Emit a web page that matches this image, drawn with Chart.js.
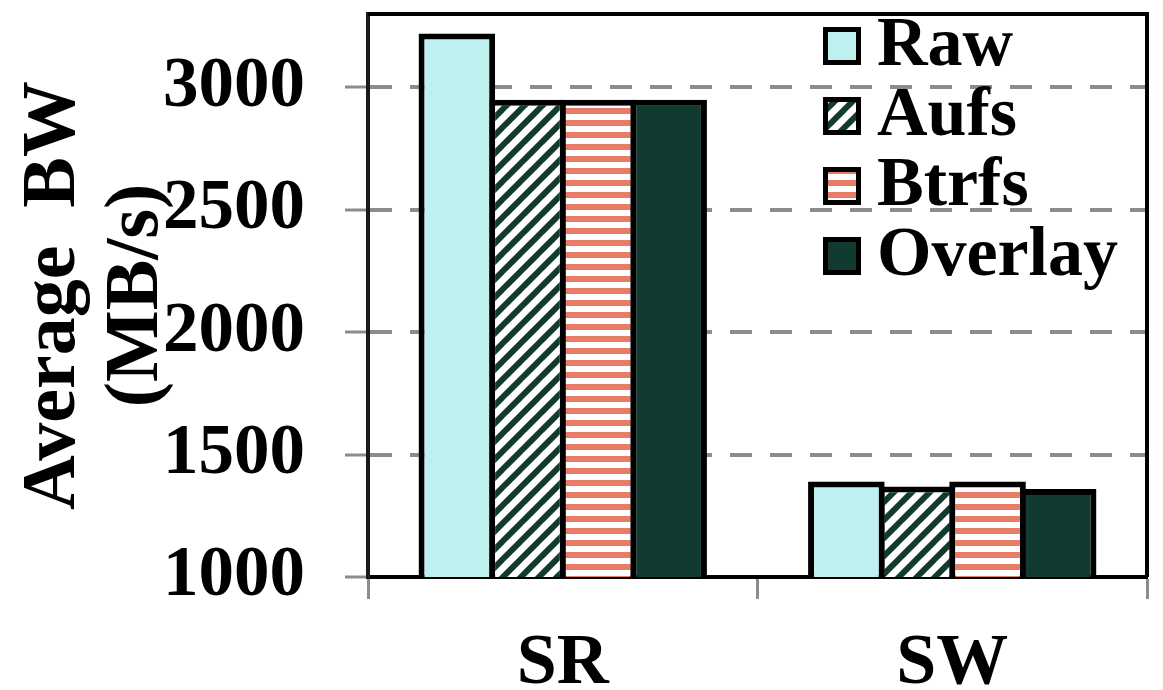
<!DOCTYPE html>
<html>
<head>
<meta charset="utf-8">
<script src="https://cdn.jsdelivr.net/npm/chart.js@4"></script>
<style>
  html, body { margin: 0; padding: 0; background: #fff; }
  #wrap { width: 1163px; height: 690px; }
</style>
</head>
<body>
<div id="wrap"><canvas id="bw-chart"></canvas></div>
<script>
// chart data
var categories = ['SR', 'SW'];
var seriesNames = ['Raw', 'Aufs', 'Btrfs', 'Overlay'];
var rawBW = [3220, 1390];
var aufsBW = [2950, 1370];
var btrfsBW = [2950, 1390];
var overlayBW = [2950, 1360];
var yTicks = [1000, 1500, 2000, 2500, 3000];
var yMin = 1000;
var yMax = 3300;

var serif = "'Liberation Serif', 'Times New Roman', serif";
var darkGreen = '#113b30';
var salmon = '#e97c66';
var cyan = '#bff0f0';
var gray = '#8c8c8c';

// diagonal "/" stripes on white
function diagonalPattern(color, size, width) {
    var c = document.createElement('canvas');
    c.width = size;
    c.height = size;
    var g = c.getContext('2d');
    g.fillStyle = '#fff';
    g.fillRect(0, 0, size, size);
    g.strokeStyle = color;
    g.lineWidth = width;
    g.beginPath();
    [0, size, 2 * size].forEach(function (k) {
        g.moveTo(k + 2, -2);
        g.lineTo(-2, k + 2);
    });
    g.stroke();
    return g.createPattern(c, 'repeat');
}

// horizontal stripes on white
function stripePattern(color, size, band) {
    var c = document.createElement('canvas');
    c.width = size;
    c.height = size;
    var g = c.getContext('2d');
    g.fillStyle = '#fff';
    g.fillRect(0, 0, size, size);
    g.fillStyle = color;
    g.fillRect(0, 0, size, band);
    return g.createPattern(c, 'repeat');
}

var fills = [cyan, diagonalPattern(darkGreen, 18, 6), stripePattern(salmon, 12, 6), darkGreen];
var values = [rawBW, aufsBW, btrfsBW, overlayBW];

var datasets = seriesNames.map(function (name, i) {
    return {
        label: name,
        data: values[i],
        backgroundColor: fills[i],
        borderColor: '#000',
        borderWidth: 6,
        borderSkipped: 'start',
        barPercentage: 1.085,
        categoryPercentage: 0.725
    };
});

// top and right edges of the plot box
var frame = {
    id: 'frame',
    afterDatasetsDraw: function (chart) {
        var ctx = chart.ctx, a = chart.chartArea;
        ctx.save();
        ctx.strokeStyle = '#000';
        ctx.lineWidth = 4;
        ctx.beginPath();
        ctx.moveTo(a.left, a.top);
        ctx.lineTo(a.right, a.top);
        ctx.lineTo(a.right, a.bottom);
        ctx.stroke();
        ctx.restore();
    }
};

// legend drawn inside the plot, top right
var insideLegend = {
    id: 'insideLegend',
    afterDraw: function (chart) {
        var ctx = chart.ctx, a = chart.chartArea;
        ctx.save();
        chart.data.datasets.forEach(function (ds, i) {
            var bx = a.right - 324;
            var by = a.top + 13 + i * 70;
            ctx.fillStyle = '#000';
            ctx.fillRect(bx, by, 38, 38);
            ctx.fillStyle = ds.backgroundColor;
            ctx.fillRect(bx + 5, by + 5, 28, 28);
            ctx.fillStyle = '#000';
            ctx.font = 'bold 70px ' + serif;
            ctx.textBaseline = 'middle';
            ctx.textAlign = 'left';
            ctx.fillText(ds.label, bx + 54, by + 20);
        });
        ctx.restore();
    }
};

new Chart(document.getElementById('bw-chart'), {
    type: 'bar',
    data: {
        labels: categories,
        datasets: datasets
    },
    options: {
        responsive: true,
        maintainAspectRatio: false,
        animation: false,
        layout: { padding: { top: 14, right: 16, left: 0, bottom: 0 } },
        plugins: {
            legend: { display: false },
            tooltip: { enabled: false }
        },
        scales: {
            x: {
                grid: {
                    offset: true,
                    drawOnChartArea: false,
                    tickLength: 22,
                    tickColor: gray,
                    tickWidth: 3
                },
                border: { color: '#000', width: 4 },
                ticks: {
                    color: '#000',
                    padding: 22,
                    font: { family: serif, size: 72, weight: 'bold', lineHeight: 1.2 }
                },
                afterFit: function (s) {
                    s.height = 113;
                    s.paddingLeft = 0;
                    s.paddingRight = 0;
                }
            },
            y: {
                min: yMin,
                max: yMax,
                afterBuildTicks: function (s) {
                    s.ticks = yTicks.map(function (v) { return { value: v }; });
                },
                grid: {
                    color: function (c) { return c.tick && c.tick.value === yMin ? 'rgba(0,0,0,0)' : gray; },
                    lineWidth: 4,
                    tickLength: 23,
                    tickColor: gray,
                    tickWidth: 3,
                    tickBorderDash: []
                },
                border: { color: '#1a1a1a', width: 4, dash: [22, 18] },
                ticks: {
                    color: '#000',
                    padding: 40,
                    font: { family: serif, size: 71, weight: 'bold', lineHeight: 1.2 },
                    callback: function (v) { return String(v); }
                },
                title: {
                    display: true,
                    text: ['Average  BW', '(MB/s)'],
                    color: '#000',
                    font: { family: serif, size: 76, weight: 'bold', lineHeight: 1.092 },
                    padding: { top: 13, bottom: 0 }
                },
                afterFit: function (s) {
                    s.width = 368;
                    s.paddingTop = 0;
                    s.paddingBottom = 0;
                }
            }
        }
    },
    plugins: [frame, insideLegend]
});
</script>
</body>
</html>
